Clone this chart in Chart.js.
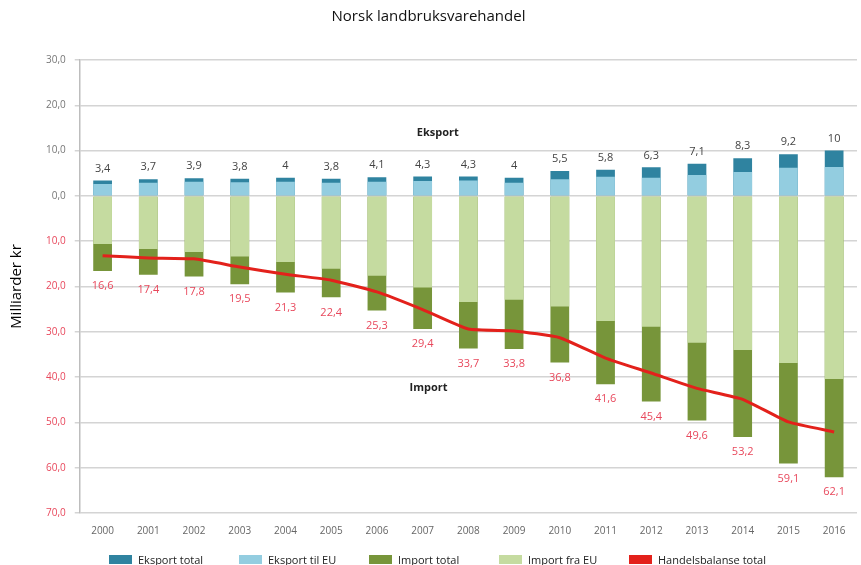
<!DOCTYPE html>
<html lang="no">
<head>
  <meta charset="UTF-8">
  <title>Norsk landbruksvarehandel</title>
  <script src="https://cdn.jsdelivr.net/npm/chart.js"></script>
  <style>
    body {
      margin: 0;
      background: #fff;
      font-family: "Open Sans", sans-serif;
    }
    .wrap {
      position: relative;
      width: 861px;
      height: 565px;
    }
    #legend {
      position: absolute;
      top: 552px;
      left: 0;
      width: 861px;
      height: 12px;
      font-size: 11px;
      color: #222;
    }
    .item {
      position: absolute;
      top: 0;
      display: flex;
      align-items: center;
      white-space: nowrap;
    }
    .box {
      width: 23px;
      height: 9px;
      margin-right: 6px;
    }
  </style>
</head>
<body>
  <div class="wrap">
    <canvas id="handel"></canvas>
    <div id="legend"></div>
  </div>

  <script>
    // Verdier i milliarder kr
    const years = ['2000', '2001', '2002', '2003', '2004', '2005', '2006', '2007', '2008',
                   '2009', '2010', '2011', '2012', '2013', '2014', '2015', '2016'];
    const eksportTotal = [3.4, 3.7, 3.9, 3.8, 4, 3.8, 4.1, 4.3, 4.3, 4, 5.5, 5.8, 6.3, 7.1, 8.3, 9.2, 10];
    const eksportEU = [2.6, 2.9, 3.1, 3.0, 3.1, 2.9, 3.1, 3.3, 3.4, 2.9, 3.7, 4.2, 4.0, 4.6, 5.3, 6.2, 6.4];
    const importTotal = [16.6, 17.4, 17.8, 19.5, 21.3, 22.4, 25.3, 29.4, 33.7, 33.8, 36.8, 41.6, 45.4, 49.6, 53.2, 59.1, 62.1];
    const importEU = [10.6, 11.7, 12.4, 13.4, 14.6, 16.1, 17.6, 20.2, 23.4, 22.9, 24.4, 27.6, 28.9, 32.4, 34.0, 36.9, 40.4];
    const handelsbalanse = [-13.2, -13.7, -13.9, -15.7, -17.3, -18.6, -21.2, -25.1, -29.4, -29.8,
                            -31.3, -35.8, -39.1, -42.5, -44.9, -49.9, -52.1];

    const FONT = '"Open Sans", sans-serif';
    const RED_TEXT = '#e8485c';

    const fmt = v => String(Math.abs(v)).replace('.', ',');

    // Tallverdier over/under stolpene og tekstene "Eksport" / "Import"
    const verdiEtiketter = {
      id: 'verdiEtiketter',
      afterDatasetsDraw(chart) {
        const ctx = chart.ctx;
        const xs = chart.scales.x;
        const ys = chart.scales.y;
        ctx.save();
        ctx.font = '11px ' + FONT;
        ctx.textAlign = 'center';
        ctx.textBaseline = 'middle';

        chart.getDatasetMeta(0).data.forEach((el, i) => {
          ctx.fillStyle = '#444';
          ctx.fillText(fmt(eksportTotal[i]), el.x, el.y - 12);
        });
        chart.getDatasetMeta(2).data.forEach((el, i) => {
          ctx.fillStyle = RED_TEXT;
          ctx.fillText(fmt(importTotal[i]), el.x, el.y + 15);
        });

        const step = xs.getPixelForValue(8) - xs.getPixelForValue(7);
        ctx.font = 'bold 11px ' + FONT;
        ctx.fillStyle = '#222';
        ctx.fillText('Eksport', xs.getPixelForValue(7) + 0.33 * step, ys.getPixelForValue(14));
        ctx.fillText('Import', xs.getPixelForValue(7) + 0.13 * step, ys.getPixelForValue(-42.4));
        ctx.restore();
      }
    };

    const barOpts = { grouped: false, categoryPercentage: 1, barPercentage: 0.41 };

    const chart = new Chart(document.getElementById('handel'), {
      type: 'bar',
      data: {
        labels: years,
        datasets: [
          { label: 'Eksport total', data: eksportTotal, backgroundColor: '#2f83a0', order: 3, ...barOpts },
          { label: 'Eksport til EU', data: eksportEU, backgroundColor: '#93cde0', order: 2, ...barOpts },
          { label: 'Import total', data: importTotal.map(v => -v), backgroundColor: '#77953a', order: 3, ...barOpts },
          { label: 'Import fra EU', data: importEU.map(v => -v), backgroundColor: '#c5dba0', order: 2, ...barOpts },
          {
            type: 'line',
            label: 'Handelsbalanse total',
            data: handelsbalanse,
            borderColor: '#e3211b',
            backgroundColor: '#e3211b',
            borderWidth: 3,
            pointRadius: 0,
            tension: 0.15,
            order: 0
          }
        ]
      },
      options: {
        responsive: true,
        maintainAspectRatio: false,
        animation: false,
        layout: { padding: { left: 0, right: 4, top: 0, bottom: 16 } },
        plugins: {
          legend: { display: false },
          tooltip: { enabled: false },
          title: {
            display: true,
            text: 'Norsk landbruksvarehandel',
            color: '#111',
            font: { family: FONT, size: 15, weight: 'normal' },
            padding: { top: 8, bottom: 34 }
          }
        },
        scales: {
          x: {
            grid: { display: false, drawTicks: false },
            border: { display: false },
            ticks: { color: '#666', font: { family: FONT, size: 10 }, padding: 12 }
          },
          y: {
            min: -70,
            max: 30,
            ticks: {
              stepSize: 10,
              padding: 9,
              font: { family: FONT, size: 10 },
              color: c => c.tick.value < 0 ? RED_TEXT : '#777',
              callback: v => Math.abs(v).toFixed(1).replace('.', ',')
            },
            grid: { color: '#d4d4d4', lineWidth: 1.5, tickLength: 5 },
            border: { color: '#bdbdbd', width: 1.5 },
            title: {
              display: true,
              text: 'Milliarder kr',
              color: '#000',
              font: { family: FONT, size: 15 },
              padding: { top: 8, bottom: 11 }
            }
          }
        }
      },
      plugins: [verdiEtiketter]
    });

    // Tegnforklaring under diagrammet
    const legend = document.getElementById('legend');
    chart.data.datasets.forEach((ds, i) => {
      const item = document.createElement('div');
      item.className = 'item';
      item.style.left = (109 + i * 130) + 'px';
      const box = document.createElement('span');
      box.className = 'box';
      box.style.background = ds.type === 'line' ? ds.borderColor : ds.backgroundColor;
      const txt = document.createElement('span');
      txt.textContent = ds.label;
      item.appendChild(box);
      item.appendChild(txt);
      legend.appendChild(item);
    });
  </script>
</body>
</html>
